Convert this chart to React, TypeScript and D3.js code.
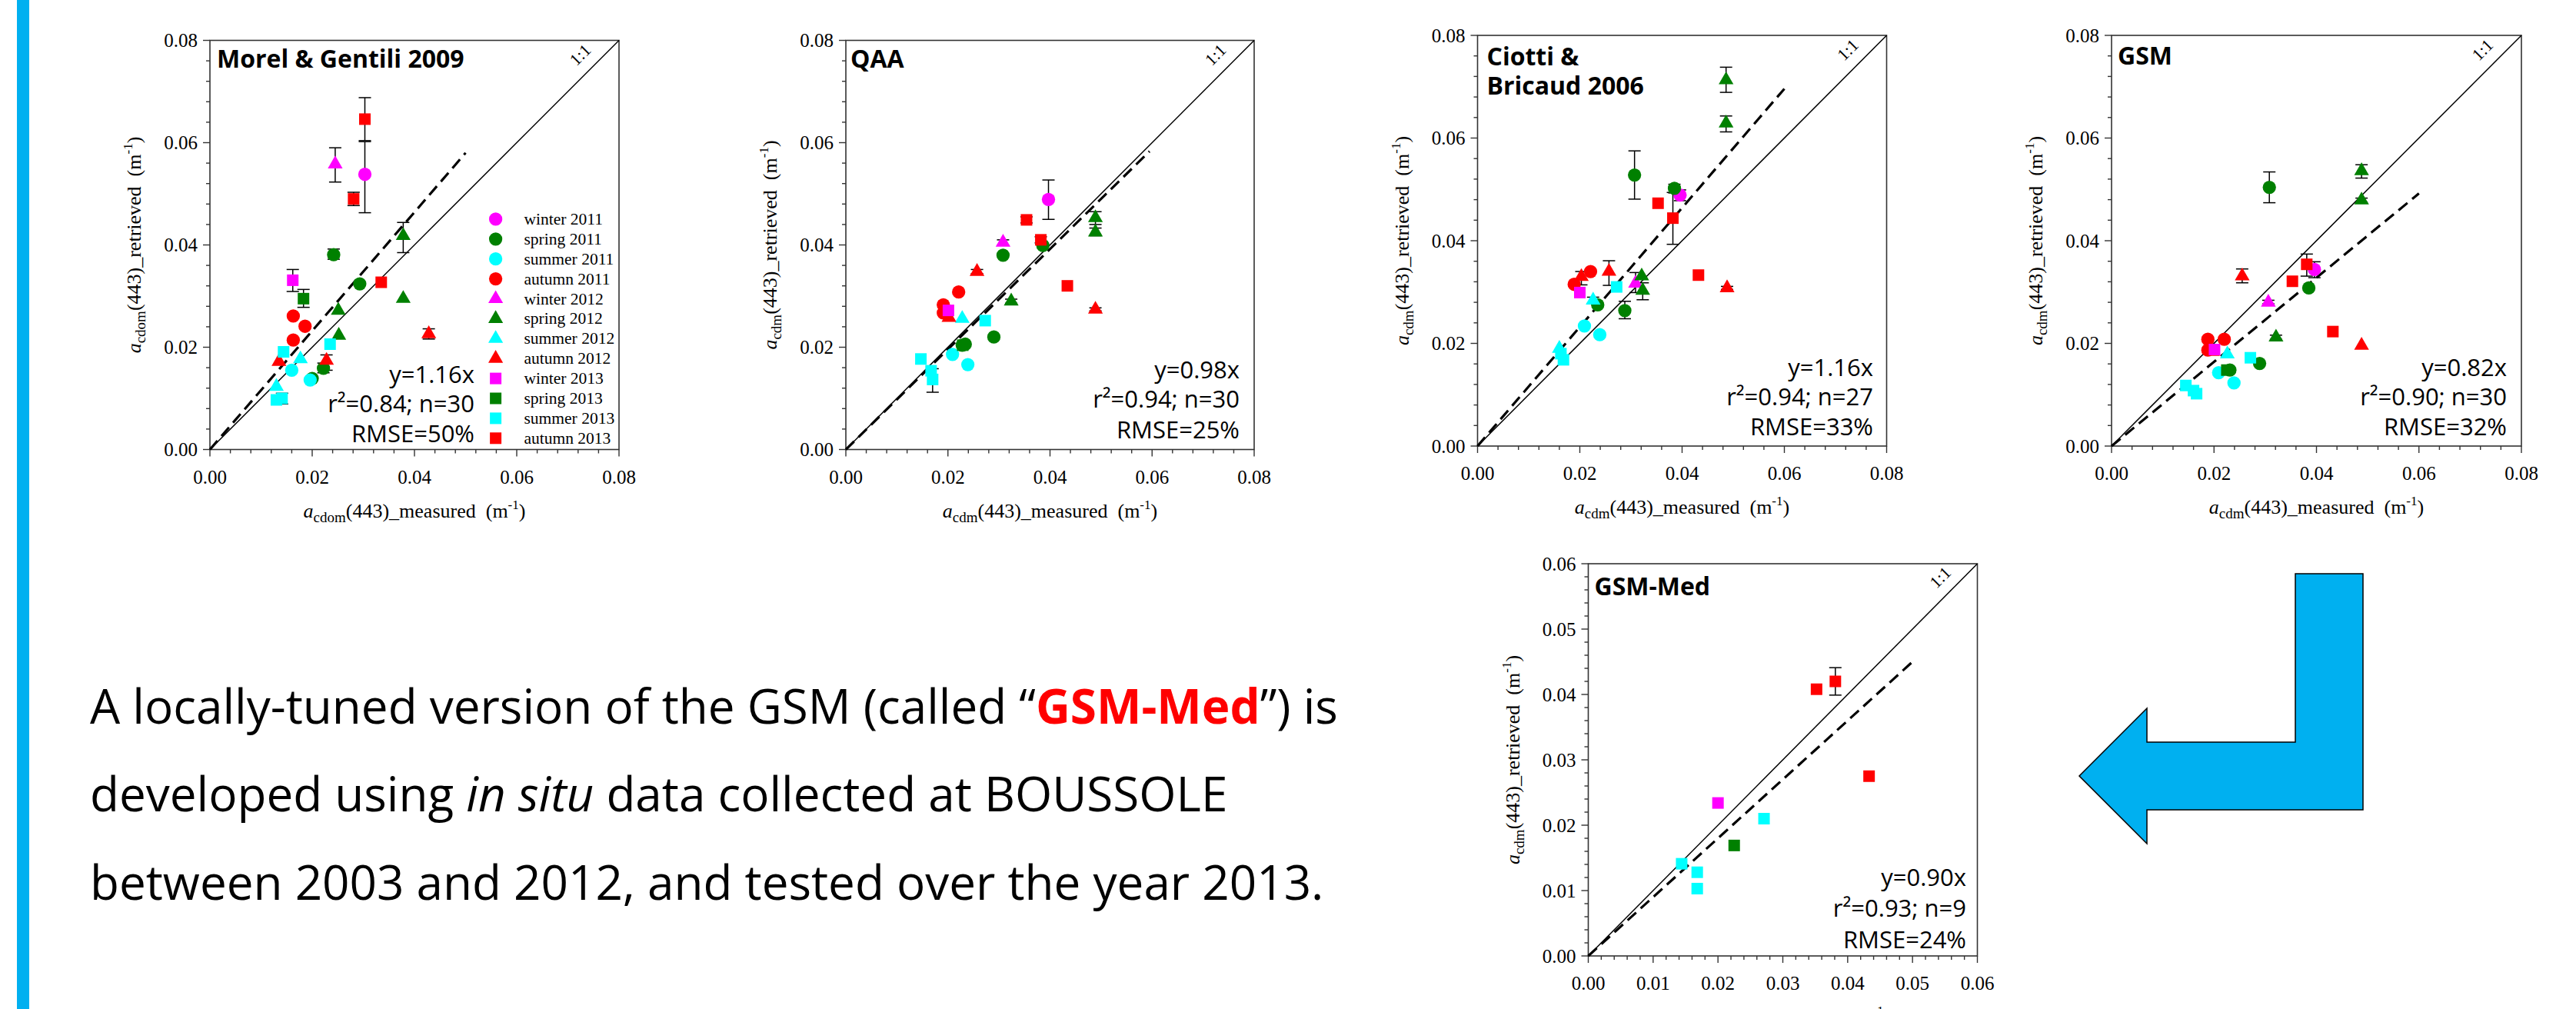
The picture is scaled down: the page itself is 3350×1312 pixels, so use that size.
import React from 'react';
import * as d3 from 'd3';

// ---------- data ----------
const seasonLabels = [
  'winter 2011', 'spring 2011', 'summer 2011', 'autumn 2011',
  'winter 2012', 'spring 2012', 'summer 2012', 'autumn 2012',
  'winter 2013', 'spring 2013', 'summer 2013', 'autumn 2013',
];
const seasonColors = ['#FF00FF', '#008000', '#00FFFF', '#FF0000'];
const yearShapes = ['circle', 'triangle', 'square'];

// [season index, measured, retrieved, errLow?, errHigh?]
type Pt = [number, number, number, number?, number?];

const morelData: Pt[] = [
  [0, 0.0303, 0.0538, 0.0463, 0.0602],
  [1, 0.0242, 0.0381, 0.0372, 0.0392], [1, 0.0293, 0.0324], [1, 0.0222, 0.0159, 0.015, 0.0169], [1, 0.02, 0.0139],
  [2, 0.016, 0.0155], [2, 0.0196, 0.0136],
  [3, 0.0163, 0.0261], [3, 0.0186, 0.0241], [3, 0.0163, 0.0214],
  [4, 0.0245, 0.0558, 0.0523, 0.059],
  [5, 0.0378, 0.0418, 0.0385, 0.0444], [5, 0.0378, 0.0295], [5, 0.0251, 0.0272], [5, 0.0252, 0.0223],
  [6, 0.0177, 0.0177], [6, 0.013, 0.0123],
  [7, 0.0428, 0.0226, 0.0216, 0.0236], [7, 0.0228, 0.0174, 0.0155, 0.0185], [7, 0.0135, 0.0172],
  [8, 0.0162, 0.0331, 0.0309, 0.0352],
  [9, 0.0183, 0.0295, 0.0278, 0.0313],
  [10, 0.0235, 0.0206], [10, 0.0144, 0.0191], [10, 0.0141, 0.01, 0.0089, 0.011], [10, 0.013, 0.0097],
  [11, 0.0303, 0.0646, 0.0604, 0.0688], [11, 0.0281, 0.049, 0.0477, 0.0503], [11, 0.0335, 0.0327],
];

const qaaData: Pt[] = [
  [0, 0.0397, 0.0489, 0.045, 0.0527],
  [1, 0.0308, 0.038], [1, 0.0386, 0.0399], [1, 0.029, 0.022], [1, 0.0234, 0.0206], [1, 0.0228, 0.0204],
  [2, 0.0209, 0.0186], [2, 0.0239, 0.0166],
  [3, 0.0191, 0.0283], [3, 0.0191, 0.0267], [3, 0.0221, 0.0308],
  [4, 0.0308, 0.0405, 0.0399, 0.041],
  [5, 0.0489, 0.0453, 0.044, 0.0465], [5, 0.0489, 0.0425, 0.0418, 0.0433], [5, 0.0324, 0.029, 0.0286, 0.0294],
  [6, 0.0228, 0.0256],
  [7, 0.0257, 0.0348, 0.0344, 0.0352], [7, 0.0489, 0.0274, 0.0271, 0.0277], [7, 0.0202, 0.0258],
  [8, 0.0201, 0.0272],
  [9, 0.0229, 0.0204],
  [10, 0.0147, 0.0177], [10, 0.017, 0.0137, 0.0112, 0.0158], [10, 0.0167, 0.0154], [10, 0.0273, 0.0252],
  [11, 0.0354, 0.0449, 0.0443, 0.0455], [11, 0.0382, 0.041, 0.0404, 0.0416], [11, 0.0434, 0.032],
];

const ciottiData: Pt[] = [
  [0, 0.0396, 0.0489, 0.0478, 0.0499],
  [1, 0.0307, 0.0528, 0.0481, 0.0575], [1, 0.0385, 0.0502, 0.0493, 0.051], [1, 0.0288, 0.0264, 0.0248, 0.0282], [1, 0.0235, 0.0275],
  [2, 0.0209, 0.0234], [2, 0.0239, 0.0217],
  [3, 0.0221, 0.034], [3, 0.0189, 0.0315],
  [4, 0.0309, 0.0317, 0.0299, 0.0338],
  [5, 0.0486, 0.0713, 0.0689, 0.0738], [5, 0.0486, 0.0629, 0.0612, 0.0643], [5, 0.0321, 0.0331], [5, 0.0323, 0.0303, 0.0285, 0.0318],
  [6, 0.0226, 0.0284, 0.0278, 0.029], [6, 0.016, 0.019],
  [7, 0.0257, 0.034, 0.0313, 0.0361], [7, 0.0488, 0.0308, 0.0305, 0.0311], [7, 0.0203, 0.033, 0.0314, 0.034],
  [8, 0.02, 0.0299],
  [10, 0.0272, 0.031], [10, 0.0168, 0.0168], [10, 0.0163, 0.018],
  [11, 0.0353, 0.0473], [11, 0.0382, 0.0444, 0.0393, 0.0494], [11, 0.0432, 0.0333],
];

const gsmData: Pt[] = [
  [0, 0.0396, 0.0344, 0.0328, 0.0359],
  [1, 0.0308, 0.0504, 0.0474, 0.0534], [1, 0.0385, 0.0308], [1, 0.0289, 0.0161], [1, 0.0231, 0.0148],
  [2, 0.0209, 0.0143], [2, 0.0239, 0.0123],
  [3, 0.0188, 0.0208], [3, 0.022, 0.0208], [3, 0.0188, 0.0187],
  [4, 0.0306, 0.028, 0.0277, 0.0284],
  [5, 0.0488, 0.0536, 0.0522, 0.0548], [5, 0.0488, 0.0479, 0.0475, 0.0483], [5, 0.0321, 0.0212, 0.0208, 0.0216],
  [6, 0.0226, 0.0179],
  [7, 0.0255, 0.0331, 0.0318, 0.0345], [7, 0.0488, 0.0196], [7, 0.0197, 0.0184],
  [8, 0.0201, 0.0188],
  [9, 0.0225, 0.0148],
  [10, 0.0271, 0.0172], [10, 0.0145, 0.0118], [10, 0.0166, 0.0102], [10, 0.016, 0.0108],
  [11, 0.0381, 0.0354, 0.0331, 0.0374], [11, 0.0353, 0.0321], [11, 0.0432, 0.0223],
];

const gsmMedData: Pt[] = [
  [11, 0.0352, 0.0408], [11, 0.0381, 0.042, 0.0399, 0.0441], [11, 0.0433, 0.0275],
  [8, 0.02, 0.0234],
  [10, 0.0271, 0.021], [10, 0.0144, 0.0141], [10, 0.0168, 0.0128], [10, 0.0168, 0.0103],
  [9, 0.0225, 0.0169],
];

const panelTitles = [['Morel & Gentili 2009'], ['QAA'], ['Ciotti &', 'Bricaud 2006'], ['GSM'], ['GSM-Med']];
const fitSlopes = [1.16, 0.98, 1.16, 0.82, 0.9];
const fitXEnd = [0.05, 0.0595, 0.06, 0.06, 0.05];
const statLines = [
  ['y=1.16x', 'r²=0.84; n=30', 'RMSE=50%'],
  ['y=0.98x', 'r²=0.94; n=30', 'RMSE=25%'],
  ['y=1.16x', 'r²=0.94; n=27', 'RMSE=33%'],
  ['y=0.82x', 'r²=0.90; n=30', 'RMSE=32%'],
  ['y=0.90x', 'r²=0.93; n=9', 'RMSE=24%'],
];
const axisMax = [0.08, 0.08, 0.08, 0.08, 0.06];
const majorStep = [0.02, 0.02, 0.02, 0.02, 0.01];
const minorStep = [0.004, 0.004, 0.004, 0.004, 0.002];
const subscripts = ['cdom', 'cdm', 'cdm', 'cdm', 'cdm'];
const panelData = [morelData, qaaData, ciottiData, gsmData, gsmMedData];

// ---------- layout / style ----------
const COMIC = '"Comic Sans MS", "Open Sans", sans-serif';
const SERIF = '"Times New Roman", "Liberation Serif", serif';
const layouts = [
  { left: 273, top: 52.5, w: 532, h: 532, titleDx: 9, titleDy: [35], statsRight: 617, statsDy: [-86.6, -48.6, -9.6] },
  { left: 1100, top: 52.5, w: 531, h: 532, titleDx: 6, titleDy: [35], statsRight: 1612, statsDy: [-92.6, -54.6, -14.6] },
  { left: 1921.5, top: 46, w: 532, h: 534, titleDx: 12, titleDy: [39, 77], statsRight: 2436, statsDy: [-91, -53, -14] },
  { left: 2746, top: 46, w: 533, h: 534, titleDx: 8, titleDy: [38], statsRight: 3260, statsDy: [-91, -53, -14] },
  { left: 2065.5, top: 733, w: 506, h: 510, titleDx: 8, titleDy: [40.6], statsRight: 2557, statsDy: [-91, -51, -10] },
];

const symbolSizes: Record<string, number> = { circle: 235, triangle: 160, square: 225 };
function symbolPath(season: number) {
  const shape = yearShapes[Math.floor(season / 4)];
  const type = shape === 'circle' ? d3.symbolCircle : shape === 'triangle' ? d3.symbolTriangle : d3.symbolSquare;
  return d3.symbol().type(type).size(symbolSizes[shape])() as string;
}
const seasonColor = (s: number) => seasonColors[s % 4];

function AxisTitle({ x, y, sub, word, rotate }: { x: number; y: number; sub: string; word: string; rotate?: boolean }) {
  return (
    <text
      transform={rotate ? `translate(${x},${y}) rotate(-90)` : `translate(${x},${y})`}
      textAnchor="middle"
      fontFamily={SERIF}
      fontSize={26}
      fill="#000"
    >
      <tspan fontStyle="italic">a</tspan>
      <tspan fontSize={19} dy={6}>{sub}</tspan>
      <tspan dy={-6}>{`(443)_${word}\u00A0\u00A0(m`}</tspan>
      <tspan fontSize={17} dy={-11}>-1</tspan>
      <tspan dy={11}>)</tspan>
    </text>
  );
}

function Panel({ idx }: { idx: number }) {
  const L = layouts[idx];
  const max = axisMax[idx];
  const x = d3.scaleLinear().domain([0, max]).range([L.left, L.left + L.w]);
  const y = d3.scaleLinear().domain([0, max]).range([L.top + L.h, L.top]);
  const nMinor = Math.round(max / minorStep[idx]);
  const ratio = Math.round(majorStep[idx] / minorStep[idx]);
  const tickIdx = d3.range(0, nMinor + 1);
  const fmt = d3.format('.2f');
  const bottom = L.top + L.h;
  const data = panelData[idx];
  const fitLine = d3.line<number>().x((v) => x(v)).y((v) => y(v * fitSlopes[idx]));
  const oneLine = d3.line<number>().x((v) => x(v)).y((v) => y(v));
  const lx = x(max * 0.915);
  const ly = y(max * 0.955);

  return (
    <g>
      <rect x={L.left} y={L.top} width={L.w} height={L.h} fill="none" stroke="#333" strokeWidth={1.6} />
      {tickIdx.map((i) => {
        const v = i * minorStep[idx];
        const major = i % ratio === 0;
        const len = major ? 9 : 5;
        return (
          <g key={'t' + i}>
            <line x1={x(v)} x2={x(v)} y1={bottom} y2={bottom + len} stroke="#333" strokeWidth={1.4} />
            <line x1={L.left} x2={L.left - len} y1={y(v)} y2={y(v)} stroke="#333" strokeWidth={1.4} />
            {major && (
              <text x={x(v)} y={bottom + 44} textAnchor="middle" fontFamily={SERIF} fontSize={25} fill="#000">
                {fmt(v)}
              </text>
            )}
            {major && (
              <text x={L.left - 16} y={y(v) + 8.5} textAnchor="end" fontFamily={SERIF} fontSize={25} fill="#000">
                {fmt(v)}
              </text>
            )}
          </g>
        );
      })}
      <AxisTitle x={L.left + L.w / 2} y={bottom + 88} sub={subscripts[idx]} word="measured" />
      <AxisTitle x={L.left - 90} y={L.top + L.h / 2} sub={subscripts[idx]} word="retrieved" rotate />
      <path d={oneLine([0, max]) as string} stroke="#000" strokeWidth={1.5} fill="none" />
      <text
        transform={`translate(${lx},${ly}) rotate(-45)`}
        textAnchor="middle"
        fontFamily={SERIF}
        fontSize={22}
        fill="#000"
      >
        1:1
      </text>
      <path
        d={fitLine([0, fitXEnd[idx]]) as string}
        stroke="#000"
        strokeWidth={3.2}
        strokeDasharray="15 8"
        fill="none"
      />
      {data.map((p, i) =>
        p[3] !== undefined && p[4] !== undefined ? (
          <g key={'e' + i} stroke="#000" strokeWidth={1.5}>
            <line x1={x(p[1])} x2={x(p[1])} y1={y(p[3] as number)} y2={y(p[4] as number)} />
            <line x1={x(p[1]) - 8} x2={x(p[1]) + 8} y1={y(p[3] as number)} y2={y(p[3] as number)} />
            <line x1={x(p[1]) - 8} x2={x(p[1]) + 8} y1={y(p[4] as number)} y2={y(p[4] as number)} />
          </g>
        ) : null
      )}
      {data.map((p, i) => (
        <path key={'p' + i} d={symbolPath(p[0])} transform={`translate(${x(p[1])},${y(p[2])})`} fill={seasonColor(p[0])} />
      ))}
      {panelTitles[idx].map((t, k) => (
        <text
          key={'ti' + k}
          x={L.left + L.titleDx}
          y={L.top + L.titleDy[k]}
          fontFamily={COMIC}
          fontWeight="bold"
          fontSize={32}
          fill="#000"
        >
          {t}
        </text>
      ))}
      {statLines[idx].map((t, k) => (
        <text
          key={'s' + k}
          x={L.statsRight}
          y={bottom + L.statsDy[k]}
          textAnchor="end"
          fontFamily={COMIC}
          fontSize={31}
          fill="#000"
        >
          {t}
        </text>
      ))}
    </g>
  );
}

function Legend() {
  const symX = 644.6;
  const textX = 681.5;
  const y0 = 284.9;
  const step = 25.9;
  return (
    <g>
      {seasonLabels.map((lab, i) => (
        <g key={lab}>
          <path d={symbolPath(i)} transform={`translate(${symX},${y0 + i * step})`} fill={seasonColor(i)} />
          <text x={textX} y={y0 + i * step + 7} fontFamily={SERIF} fontSize={21.5} fill="#000">
            {lab}
          </text>
        </g>
      ))}
    </g>
  );
}

export default function App() {
  const arrow = [
    [2985, 746], [3073, 746], [3073, 1053], [2792, 1053], [2792, 1097],
    [2704, 1009], [2792, 921], [2792, 965], [2985, 965],
  ];
  return (
    <svg
      width={3350}
      height={1312}
      style={{ position: 'absolute', left: 0, top: 0, background: '#fff' }}
      xmlns="http://www.w3.org/2000/svg"
    >
      <rect x={0} y={0} width={3350} height={1312} fill="#fff" />
      <rect x={22} y={0} width={16} height={1312} fill="#00B0F0" />
      {[0, 1, 2, 3, 4].map((i) => (
        <Panel key={i} idx={i} />
      ))}
      <Legend />
      <polygon points={arrow.map((p) => p.join(',')).join(' ')} fill="#00B0F0" stroke="#000" strokeWidth={1.5} />
      <g fontFamily={COMIC} fontSize={62} fill="#000">
        <text x={117} y={940.6}>
          A locally-tuned version of the GSM (called “
          <tspan fill="#FF0000" fontWeight="bold">GSM-Med</tspan>”) is
        </text>
        <text x={117} y={1055}>
          developed using <tspan fontStyle="italic">in situ</tspan> data collected at BOUSSOLE
        </text>
        <text x={117} y={1169.7}>between 2003 and 2012, and tested over the year 2013.</text>
      </g>
    </svg>
  );
}
